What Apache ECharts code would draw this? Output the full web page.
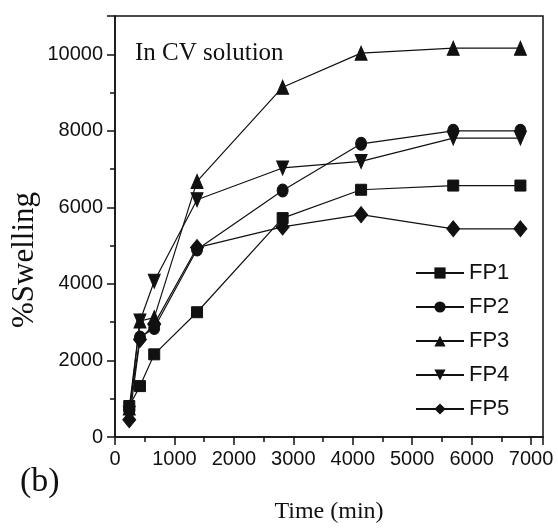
<!DOCTYPE html>
<html>
<head>
<meta charset="utf-8">
<script src="https://cdn.jsdelivr.net/npm/echarts@6/dist/echarts.min.js"></script>
<style>html,body{margin:0;padding:0;background:#fff}#c{width:558px;height:529px}</style>
</head>
<body>
<div id="c"></div>
<script>
// Time points (min)
const times = [240, 420, 660, 1380, 2820, 4140, 5690, 6820];
// %Swelling values per formulation
const FP1 = [810, 1330, 2160, 3260, 5720, 6460, 6570, 6570];
const FP2 = [700, 2600, 2850, 4900, 6440, 7660, 8000, 8000];
const FP3 = [760, 3030, 3120, 6680, 9140, 10030, 10160, 10160];
const FP4 = [620, 3030, 4070, 6200, 7030, 7200, 7810, 7810];
const FP5 = [450, 2550, 2950, 4950, 5490, 5810, 5440, 5440];
const seriesNames = ['FP1', 'FP2', 'FP3', 'FP4', 'FP5'];
const xTicks = [0, 1000, 2000, 3000, 4000, 5000, 6000, 7000];
const yTicks = [0, 2000, 4000, 6000, 8000, 10000];

const seriesData = [FP1, FP2, FP3, FP4, FP5];
const symbols = ['rect', 'circle', 'triangle', 'path://M0,0 L10,0 L5,10 Z', 'diamond'];
const sizes = [[11, 11], [11, 13], [12, 14], [12, 14], [13, 16]];

const chart = echarts.init(document.getElementById('c'), null, {renderer: 'canvas'});
const tickFont = {fontFamily: 'Liberation Sans', fontSize: 20, color: '#111'};

chart.setOption({
  animation: false,
  backgroundColor: '#fff',
  grid: {left: 115, right: 15, top: 16, bottom: 91, show: true, borderColor: '#111', borderWidth: 1.5, backgroundColor: 'transparent'},
  xAxis: {
    type: 'value', min: 0, max: 7200, interval: 1000,
    name: 'Time (min)', nameLocation: 'middle', nameGap: 63,
    nameTextStyle: {fontFamily: 'Liberation Serif', fontSize: 24, color: '#111'},
    axisLine: {show: true, lineStyle: {color: '#111', width: 1.5}},
    axisTick: {show: true, inside: false, length: 8, lineStyle: {color: '#111', width: 1.5}},
    minorTick: {show: true, splitNumber: 2, length: 5, lineStyle: {color: '#111', width: 1.5}},
    splitLine: {show: false},
    axisLabel: Object.assign({margin: 12, showMaxLabel: false, formatter: v => xTicks.includes(v) ? String(v) : ''}, tickFont)
  },
  yAxis: {
    type: 'value', min: 0, max: 11000, interval: 2000,
    axisLine: {show: true, lineStyle: {color: '#111', width: 1.5}},
    axisTick: {show: true, inside: false, length: 8, lineStyle: {color: '#111', width: 1.5}},
    minorTick: {show: true, splitNumber: 2, length: 5, lineStyle: {color: '#111', width: 1.5}},
    splitLine: {show: false},
    axisLabel: Object.assign({margin: 12, showMaxLabel: false, formatter: v => yTicks.includes(v) ? String(v) : ''}, tickFont)
  },
  legend: {
    orient: 'vertical', left: 415, top: 262, padding: 0,
    itemWidth: 48, itemHeight: 14, itemGap: 12,
    textStyle: {fontFamily: 'Liberation Sans', fontSize: 22, color: '#111'},
    data: seriesNames
  },
  graphic: [
    {type: 'text', x: 25, y: 260, rotation: Math.PI / 2,
     style: {text: '%Swelling', fontFamily: 'Liberation Serif', fontSize: 31, fill: '#111', textAlign: 'center', textVerticalAlign: 'middle'}},
    {type: 'text', x: 135, y: 53,
     style: {text: 'In CV solution', fontFamily: 'Liberation Serif', fontSize: 25, fill: '#111', textAlign: 'left', textVerticalAlign: 'middle'}},
    {type: 'text', x: 20, y: 482,
     style: {text: '(b)', fontFamily: 'Liberation Serif', fontSize: 34, fill: '#111', textAlign: 'left', textVerticalAlign: 'middle'}}
  ],
  series: seriesNames.map((n, i) => ({
    name: n, type: 'line',
    data: times.map((t, j) => [t, seriesData[i][j]]),
    symbol: symbols[i], symbolSize: sizes[i], showSymbol: true,
    lineStyle: {color: '#111', width: 1.2},
    itemStyle: {color: '#111', borderColor: '#111'},
    z: 2
  }))
});
</script>
</body>
</html>
